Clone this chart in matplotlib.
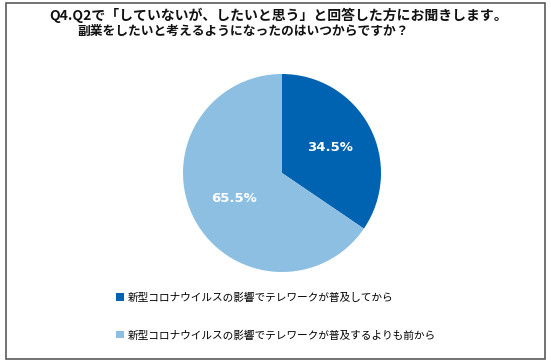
import matplotlib
matplotlib.use("Agg")
import matplotlib.pyplot as plt
from matplotlib.patches import Rectangle

plt.rcParams['font.family'] = ['Noto Sans CJK JP', 'DejaVu Sans']

title_lines = ["Q4.Q2で「していないが、したいと思う」と回答した方にお聞きします。",
               "副業をしたいと考えるようになったのはいつからですか？"]
categories = ["新型コロナウイルスの影響でテレワークが普及してから",
              "新型コロナウイルスの影響でテレワークが普及するよりも前から"]
values = [34.5, 65.5]
colors = ["#0063B1", "#8CBFE1"]

W, H = 551, 364
fig = plt.figure(figsize=(W / 100, H / 100), dpi=100)
fig.patch.set_facecolor("white")

# frame
fig.add_artist(Rectangle((5.5 / W, (H - 359) / H), 539 / W, 356 / H,
                         transform=fig.transFigure, fill=False,
                         edgecolor="#5a5a5a", linewidth=1.2))

fig.text(279 / W, 1 - 15 / H, title_lines[0], ha="center", va="center",
         fontsize=10.0, fontweight="bold", color="#111111")
fig.text(77 / W, 1 - 31 / H, title_lines[1], ha="left", va="center",
         fontsize=9.2, fontweight="bold", color="#111111")

cx, cy, r = 282, 173, 99
ax = fig.add_axes([(cx - r) / W, (H - cy - r) / H, 2 * r / W, 2 * r / H])
wedges, texts, autotexts = ax.pie(values, colors=colors, startangle=90,
                                  counterclock=False, autopct="%.1f%%",
                                  pctdistance=0.55, radius=1.0,
                                  wedgeprops=dict(linewidth=0),
                                  textprops=dict(color="white", fontsize=9.5,
                                                 fontweight="bold",
                                                 family=["DejaVu Sans"]))
ax.set_aspect("equal")
ax.set_xlim(-1, 1)
ax.set_ylim(-1, 1)
ax.axis("off")

leg = fig.legend(wedges, categories, loc="upper left",
                 bbox_to_anchor=(111 / W, 1 - 287 / H), frameon=False,
                 fontsize=7.7, handlelength=0.7, handleheight=0.7,
                 handletextpad=0.4, labelspacing=2.55, borderpad=0)

fig.savefig("out.png", dpi=100, facecolor="white")
